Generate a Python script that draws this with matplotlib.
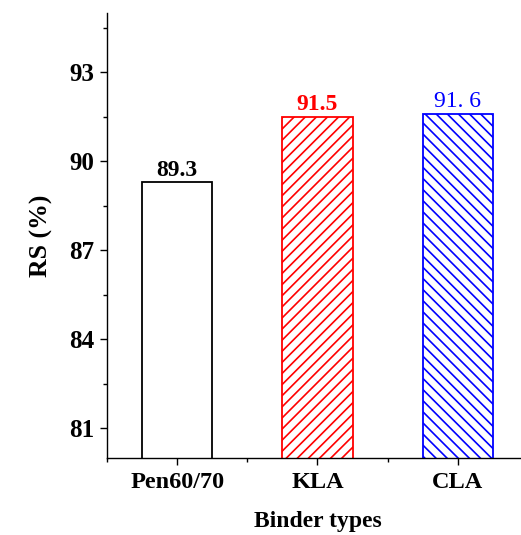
import matplotlib.pyplot as plt
import numpy as np
from matplotlib.ticker import MultipleLocator

plt.rcParams["font.family"] = "Liberation Serif"
plt.rcParams["hatch.linewidth"] = 1.2

binders = ["Pen60/70", "KLA", "CLA"]
rs_values = [89.3, 91.5, 91.6]
edge_colors = ["black", "red", "blue"]
hatches = ["", "///", "\\\\\\"]
value_labels = ["89.3", "91.5", "91. 6"]
label_weights = ["bold", "bold", "normal"]

fig = plt.figure(figsize=(5.21, 5.35), dpi=100)
ax = fig.add_axes([0.2054, 0.1439, 0.808, 0.8318])

x = np.arange(len(binders))
for i in range(len(binders)):
    ax.bar(
        x[i], rs_values[i], width=0.5, bottom=0,
        facecolor="white", edgecolor=edge_colors[i],
        hatch=hatches[i], linewidth=1.3, zorder=2,
    )
    ax.text(
        x[i], rs_values[i] + 0.05, value_labels[i],
        ha="center", va="bottom", fontsize=17,
        color=edge_colors[i], fontweight=label_weights[i],
    )

ax.set_ylim(80, 95)
ax.set_xlim(-0.5, 2.5)
ax.yaxis.set_minor_locator(MultipleLocator(1.5))
ax.set_yticks([81, 84, 87, 90, 93])
ax.set_xticks(x)
ax.set_xticks([-0.5, 0.5, 1.5, 2.5], minor=True)
ax.set_xticklabels(binders, fontsize=17.5, fontweight="bold")
for lbl in ax.get_yticklabels():
    lbl.set_fontsize(18)
    lbl.set_fontweight("bold")

ax.tick_params(axis="both", which="major", direction="out", length=5, width=1)
ax.tick_params(axis="both", which="minor", direction="out", length=3, width=1)
ax.tick_params(axis="x", pad=5)
ax.tick_params(axis="y", pad=4)
ax.spines["top"].set_visible(False)
ax.spines["right"].set_visible(False)
ax.spines["left"].set_linewidth(1)
ax.spines["bottom"].set_linewidth(1)

ax.set_ylabel("RS (%)", fontsize=18.5, fontweight="bold", labelpad=12)
ax.set_xlabel("Binder types", fontsize=17, fontweight="bold", labelpad=13)

fig.savefig("out.png", dpi=100)
